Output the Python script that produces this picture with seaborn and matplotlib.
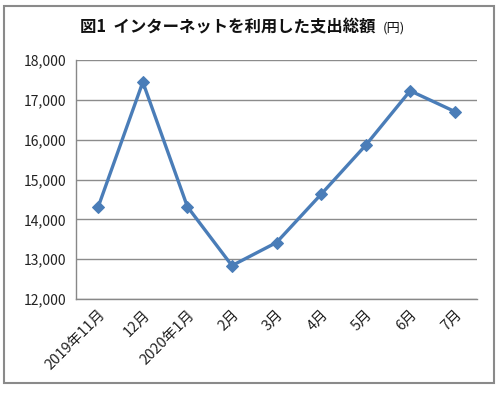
import numpy as np
import pandas as pd
import matplotlib.pyplot as plt
import seaborn as sns
from matplotlib.patches import Rectangle
from matplotlib.ticker import FuncFormatter, FixedLocator

# data
months = ['2019年11月', '12月', '2020年1月', '2月', '3月', '4月', '5月', '6月', '7月']
spending = [14320, 17450, 14320, 12840, 13420, 14630, 15860, 17230, 16710]

sns.set_style('white')
plt.rcParams['font.family'] = ['Noto Sans CJK JP', 'DejaVu Sans']

df = pd.DataFrame({'pos': np.arange(len(months)), 'spending': spending})

fig = plt.figure(figsize=(5, 3.93), dpi=100)
ax = fig.add_axes([0.152, 0.239, 0.802, 0.608])

sns.lineplot(data=df, x='pos', y='spending', ax=ax, color='#4A7DB8', linewidth=2.4,
             marker='D', markersize=6.5, markeredgecolor='#4A7DB8')

ax.set_xlim(-0.5, len(months) - 0.5)
ax.set_ylim(12000, 18000)
ax.set_yticks(range(12000, 18001, 1000))
ax.yaxis.set_major_formatter(FuncFormatter(lambda v, p: f'{int(v):,}'))
ax.set_xticks(np.arange(len(months)))
ax.set_xticklabels(months, rotation=45, ha='right', rotation_mode='anchor')
ax.xaxis.set_minor_locator(FixedLocator(np.arange(len(months) + 1) - 0.5))
ax.tick_params(axis='x', which='major', length=0, pad=6, labelsize=10.5, colors='#222222')
ax.tick_params(axis='x', which='minor', length=4, width=1, color='#888888', direction='out')
ax.tick_params(axis='y', length=4, width=1, color='#888888', direction='out',
               labelsize=10, labelcolor='#222222', pad=3)
ax.grid(axis='y', color='#8c8c8c', linewidth=1)
ax.set_axisbelow(True)
for s in ['top', 'right']:
    ax.spines[s].set_visible(False)
for s in ['left', 'bottom']:
    ax.spines[s].set_color('#888888')
    ax.spines[s].set_linewidth(1)
ax.set_xlabel('')
ax.set_ylabel('')

fig.text(0.160, 0.929, '図1  インターネットを利用した支出総額', fontsize=11.8,
         fontweight='bold', ha='left', va='center', color='#111111')
fig.text(0.765, 0.929, '(円)', fontsize=9.5, ha='left', va='center', color='#111111')

fig.patches.append(Rectangle((0.008, 0.025), 0.98, 0.96, transform=fig.transFigure,
                             fill=False, edgecolor='#8a8a8a', linewidth=1.5))

fig.savefig('out.png', dpi=100)
